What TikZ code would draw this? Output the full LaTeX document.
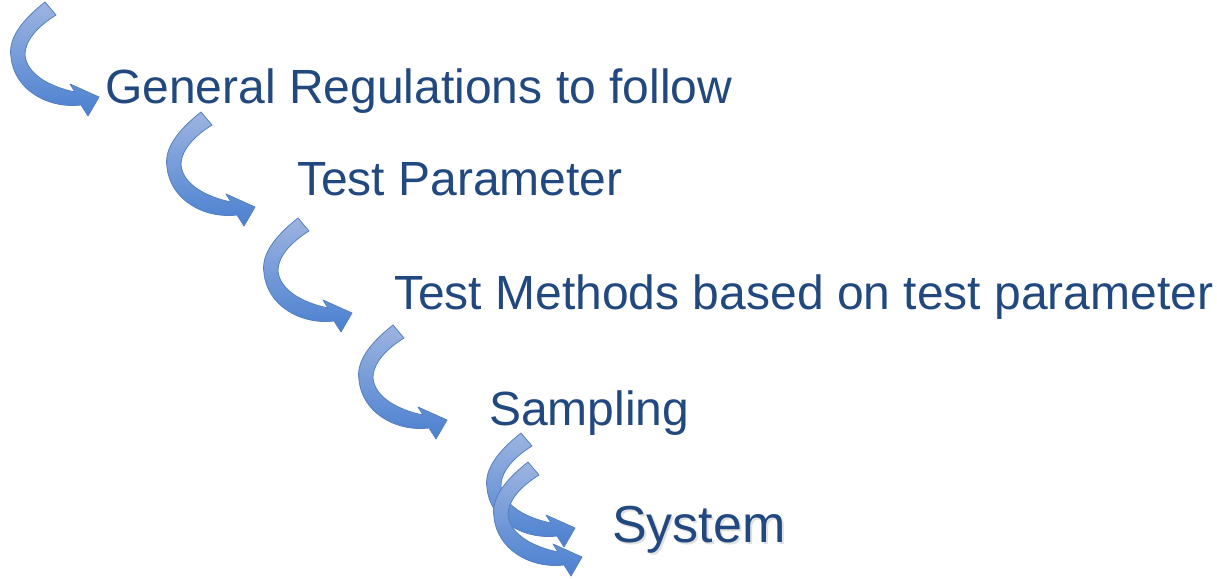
\documentclass[tikz,border=0pt]{standalone}
\usepackage{fontspec}
\setmainfont{Liberation Sans}
\definecolor{txtblue}{HTML}{21487F}
\definecolor{arrtop}{HTML}{9DB4E0}
\definecolor{arrbot}{HTML}{4A80D0}
\definecolor{arredge}{HTML}{5580C0}
\tikzset{
  curlarrow/.pic={
    \path[draw=arredge, line width=0.8pt, top color=arrtop, bottom color=arrbot, line join=round]
      (-52,-95) .. controls (-76,-76) and (-89,-58) .. (-86,-40)
      .. controls (-83,-8) and (-50,12) .. (-16,8)
      -- (-9,19) -- (2,0) -- (-27,-13) -- (-22,-5)
      .. controls (-46,-10) and (-70,-22) .. (-72,-42)
      .. controls (-72,-58) and (-57,-72) .. (-41,-82) -- cycle;
  },
  steplabel/.style={text=txtblue, font=\fontsize{48}{58}\selectfont, anchor=base west, inner sep=0pt},
}
\begin{document}
\begin{tikzpicture}[x=1pt, y=-1pt]
  \useasboundingbox (0,0) rectangle (1217,578);
  % curved step arrows, each placed at its tip
  \coordinate (t1) at (97,97);
  \coordinate (t2) at (253,207);
  \coordinate (t3) at (350,313);
  \coordinate (t4) at (445,420);
  \coordinate (t5) at (573,528);
  \coordinate (t6) at (580,557);
  \foreach \t in {t1,t2,t3,t4,t5,t6} \pic at (\t) {curlarrow};
  % step captions
  \node[steplabel] (gen) at (105,103) {General Regulations to follow};
  \node[steplabel] (par) at (297,195) {Test Parameter};
  \node[steplabel] (met) at (394,309) {Test Methods based on test parameter};
  \node[steplabel] (smp) at (489,425) {Sampling};
  \node[steplabel, text=black!30, opacity=0.4, font=\fontsize{52}{60}\selectfont] (sysshadow) at (614,544) {System};
  \node[steplabel, font=\fontsize{52}{60}\selectfont] (sys) at (612,542) {System};
\end{tikzpicture}
\end{document}
